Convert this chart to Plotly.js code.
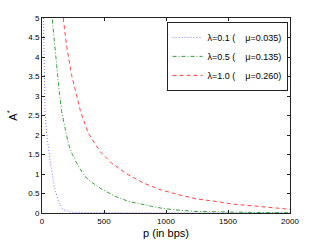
<!DOCTYPE html>
<html><head><meta charset="utf-8">
<script src="https://cdn.plot.ly/plotly-3.0.1.min.js"></script>
<style>html,body{margin:0;padding:0;background:#fff}#c{width:321px;height:242px}</style>
</head><body><div id="c"></div>
<script>
const legendNames = ["λ=0.1 (    μ=0.035)", "λ=0.5 (    μ=0.135)", "λ=1.0 (    μ=0.260)"];
const pBlue = [12, 16, 20, 24, 35, 48, 64, 85, 105, 135, 171, 238, 400, 800, 1200, 1600, 2000];
const aBlue = [5.0, 4.0, 3.2, 2.65, 2.1, 1.75, 1.37, 0.95, 0.6, 0.28, 0.08, 0.02, 0.01, 0.005, 0.003, 0.002, 0.001];
const pGreen = [83, 100, 118, 138, 158, 185, 212, 245, 279, 346, 400, 467, 588, 695, 790, 885, 970, 1060, 1234, 1500, 1800, 2000];
const aGreen = [4.96, 4.35, 3.8, 3.15, 2.6, 2.15, 1.79, 1.5, 1.28, 0.94, 0.79, 0.64, 0.43, 0.30, 0.23, 0.17, 0.12, 0.085, 0.04, 0.02, 0.01, 0.008];
const pRed = [171, 200, 238, 275, 311, 373, 467, 561, 684, 818, 952, 1100, 1248, 1395, 1530, 1677, 1825, 1973, 2000];
const aRed = [5.0, 4.25, 3.55, 3.05, 2.6, 2.05, 1.58, 1.28, 1.0, 0.77, 0.60, 0.47, 0.36, 0.30, 0.23, 0.19, 0.14, 0.10, 0.095];
const xTicks = [0, 500, 1000, 1500, 2000];
const yTicks = [0, 0.5, 1, 1.5, 2, 2.5, 3, 3.5, 4, 4.5, 5];

const FONT = 'Liberation Sans, Arial, sans-serif';
const traces = [
  {x: pBlue, y: aBlue, name: legendNames[0], mode: 'lines', line: {color: 'rgb(120,120,255)', width: 1, dash: '1px,2px'}},
  {x: pGreen, y: aGreen, name: legendNames[1], mode: 'lines', line: {color: 'rgb(60,160,60)', width: 1, dash: '4px,2px,1px,2px'}},
  {x: pRed, y: aRed, name: legendNames[2], mode: 'lines', line: {color: 'rgb(255,70,70)', width: 1, dash: '4px,3px'}}
];
const axisCommon = {
  showgrid: false, zeroline: false, showline: true, linecolor: '#222', linewidth: 1,
  mirror: 'allticks', ticks: 'inside', ticklen: 3, tickcolor: '#222',
  tickfont: {family: FONT, size: 8, color: '#000'}
};
const layout = {
  width: 321, height: 242,
  margin: {l: 42, r: 31, t: 18, b: 29},
  paper_bgcolor: '#fff', plot_bgcolor: '#fff',
  showlegend: true,
  legend: {x: 0.99, y: 0.98, xanchor: 'right', yanchor: 'top', bordercolor: '#222', borderwidth: 1,
    bgcolor: '#fff', font: {family: FONT, size: 9, color: '#000'},
    tracegroupgap: 0, itemwidth: 30},
  xaxis: Object.assign({}, axisCommon, {range: [0, 2000], tickvals: xTicks, ticktext: xTicks.map(String),
    title: {text: 'p (in bps)', font: {family: FONT, size: 11, color: '#000'}, standoff: 4}}),
  yaxis: Object.assign({}, axisCommon, {range: [0, 5], tickvals: yTicks, ticktext: yTicks.map(String),
    title: {text: 'A<sup>*</sup>', font: {family: FONT, size: 11, color: '#000'}, standoff: 8}})
};
Plotly.newPlot('c', traces, layout, {staticPlot: true, displayModeBar: false});
</script></body></html>
